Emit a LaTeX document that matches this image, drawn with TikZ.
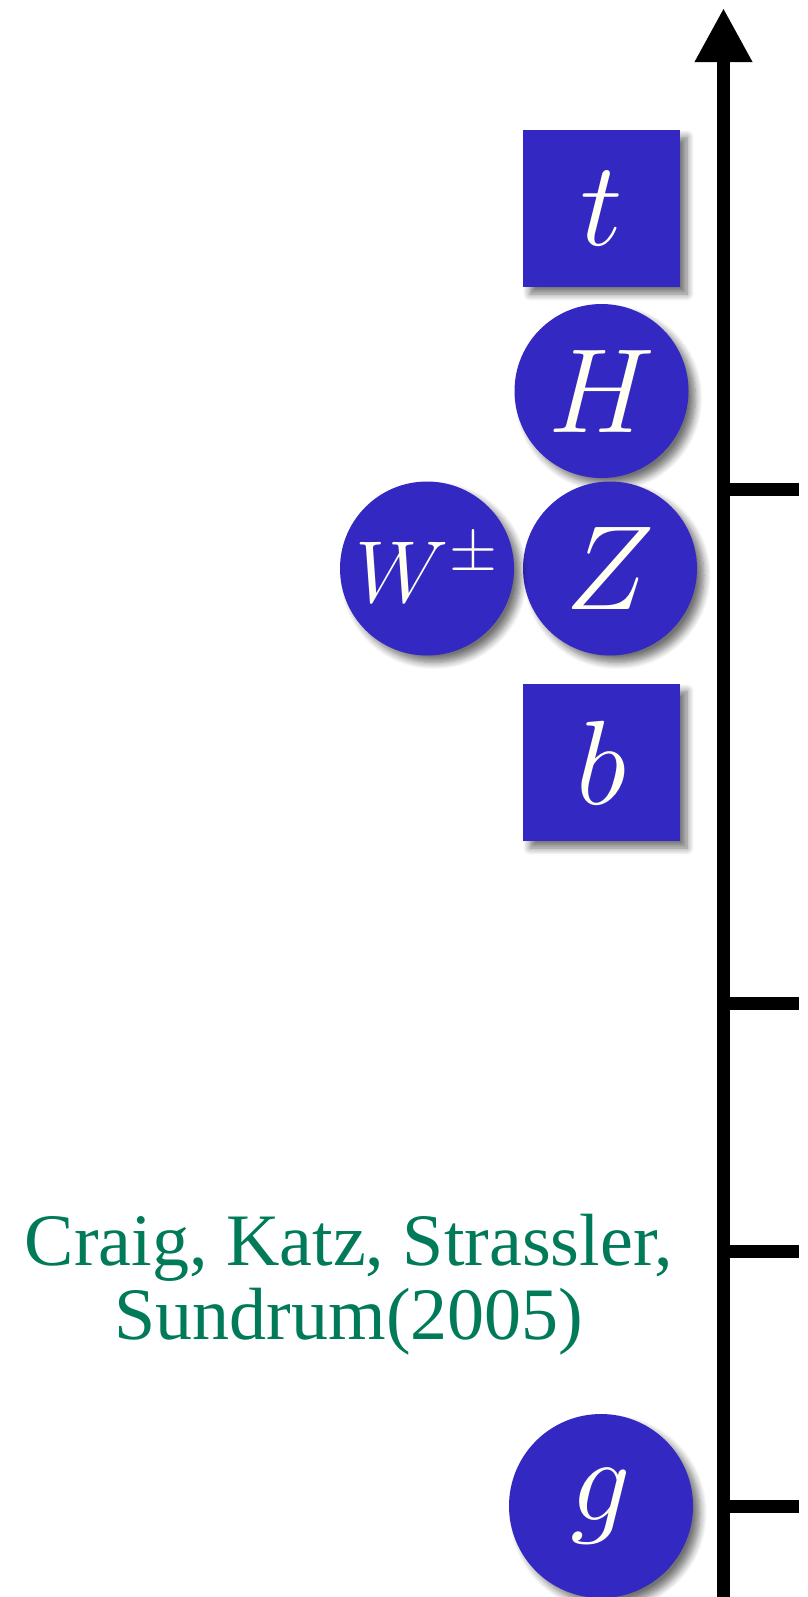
\documentclass[tikz,border=0pt]{standalone}
\usepackage{fontspec}
\setmainfont{Liberation Serif}
\usetikzlibrary{arrows.meta,shadows.blur}
\DeclareFontShape{OML}{cmm}{m}{it}{<->cmmi12}{}
\DeclareFontShape{OMS}{cmsy}{m}{n}{<->cmsy10}{}
\definecolor{quark}{RGB}{52,40,194}
\definecolor{ivory}{RGB}{255,255,242}
\definecolor{citegreen}{RGB}{0,122,88}

\begin{document}
\begin{tikzpicture}[x=0.5pt,y=-0.5pt,
    particle/.style={fill=quark,text=ivory,inner sep=0pt,font=\fontsize{60}{60}\selectfont,
      blur shadow={shadow xshift=3.5pt,shadow yshift=-3.5pt,shadow blur radius=3.5pt,
        shadow blur steps=8,shadow opacity=55}},
    fermion/.style={particle,rectangle,minimum size=78.5pt},
    boson/.style={particle,circle,minimum size=87pt},
    energyaxis/.style={line width=6.5pt,-{Triangle[width=27pt,length=27pt]}},
    scaletick/.style={line width=6.5pt}]
  \useasboundingbox (0,0) rectangle (808,1597);

  % mass axis
  \coordinate (axbot) at (723.5,1597);
  \coordinate (axtop) at (723.5,8);
  \draw[energyaxis] (axbot) -- (axtop);
  \foreach \y/\n in {489.5/a,1003.5/b,1251.5/c,1506/d}
  {
    \coordinate (tick\n) at (723.5,\y);
    \coordinate (tickend\n) at (799,\y);
    \draw[scaletick] (tick\n) -- (tickend\n);
  }

  % particles
  \foreach \x/\y/\s/\n/\m in {
      601.5/208.5/fermion/top/t,
      601.5/391/boson/higgs/H,
      610/568.5/boson/zed/Z,
      601.5/762.5/fermion/bottom/b}
  {
    \node[\s] (\n) at (\x,\y) {$\m$};
  }
  \node[boson,font=\fontsize{44}{44}\selectfont] (wboson) at (427,568.5) {$W^\pm$};
  \node[boson,minimum size=92pt] (gluon) at (601,1506) {$g$};

  \node[text=citegreen,align=center,font=\fontsize{37}{37}\selectfont] (cite) at (349,1285)
    {Craig, Katz, Strassler,\\Sundrum(2005)};
\end{tikzpicture}
\end{document}
